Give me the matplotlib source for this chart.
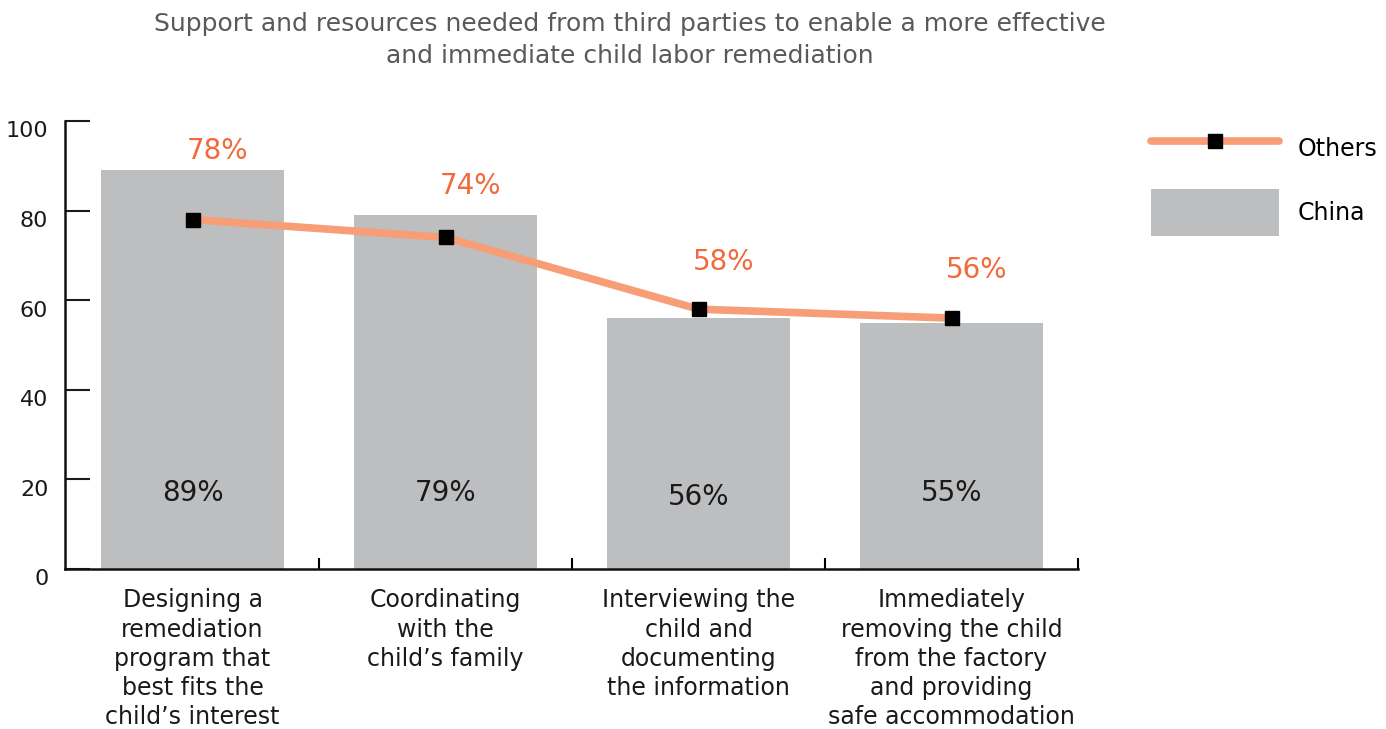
import numpy as np
import matplotlib
matplotlib.use('Agg')
from matplotlib import pyplot as plt
from matplotlib.lines import Line2D
from matplotlib.patches import Patch
from matplotlib.transforms import ScaledTranslation

plt.rcParams['font.family'] = ['DejaVu Sans']

categories = ['Designing a\nremediation\nprogram that\nbest fits the\nchild\u2019s interest',
              'Coordinating\nwith the\nchild\u2019s family',
              'Interviewing the\nchild and\ndocumenting\nthe information',
              'Immediately\nremoving the child\nfrom the factory\nand providing\nsafe accommodation']
china = [89, 79, 56, 55]
others = [78, 74, 58, 56]

# where the labels sit (hand placed in the original)
others_label_y = [93.2, 85.5, 68.5, 66.7]
china_label_y = [17, 17, 16, 17]

bar_color = '#bdbec0'
line_color = '#f79e76'
label_color = '#f26a3b'

fig = plt.figure(figsize=(13.86, 7.29), dpi=100)
ax = fig.add_axes([65/1386, 160/729, 1013/1386, 448/729])

x = np.arange(len(categories))
ax.bar(x, china, width=0.723, color=bar_color, zorder=1)
ax.plot(x, others, color=line_color, lw=5.5, solid_capstyle='round',
        marker='s', ms=10, mfc='black', mec='black', zorder=3)

for i in range(len(x)):
    ax.text(x[i] + 0.1, others_label_y[i], '%d%%' % others[i], color=label_color,
            fontsize=20, ha='center', va='center')
    ax.text(x[i], china_label_y[i], '%d%%' % china[i], color='#1a1a1a',
            fontsize=20, ha='center', va='center')

ax.set_xlim(-0.504, 3.5)
ax.set_ylim(0, 100)
ax.set_yticks([0, 20, 40, 60, 80, 100])
ax.tick_params(axis='y', direction='in', length=18, width=1.5, pad=12,
               labelsize=16, colors='#1a1a1a')
shift = ScaledTranslation(0, -6/72, fig.dpi_scale_trans)
for lab in ax.get_yticklabels():
    lab.set_transform(lab.get_transform() + shift)
ax.set_xticks(x)
ax.set_xticklabels(categories, fontsize=17, linespacing=1.27, color='#1a1a1a')
ax.tick_params(axis='x', which='major', length=0, pad=14)
ax.set_xticks(list(x + 0.5), minor=True)
ax.tick_params(axis='x', which='minor', direction='in', length=8, width=1.5)

for s in ['top', 'right']:
    ax.spines[s].set_visible(False)
for s in ['left', 'bottom']:
    ax.spines[s].set_linewidth(1.8)
    ax.spines[s].set_color('#111111')

fig.text(630/1386, 1 - 40/729,
         'Support and resources needed from third parties to enable a more effective\n'
         'and immediate child labor remediation',
         ha='center', va='center', fontsize=18, color='#595959', linespacing=1.38)

handles = [Line2D([], [], color=line_color, lw=5.5, solid_capstyle='round',
                  marker='s', ms=10, mfc='black', mec='black'),
           Patch(facecolor=bar_color)]
fig.legend(handles, ['Others', 'China'], loc='upper left',
           bbox_to_anchor=(1130/1386, 1 - 104/729), frameon=False,
           fontsize=17, handlelength=5.4, handleheight=2.7, labelspacing=0.7,
           handletextpad=0.8)

fig.savefig('out.png', dpi=100)
